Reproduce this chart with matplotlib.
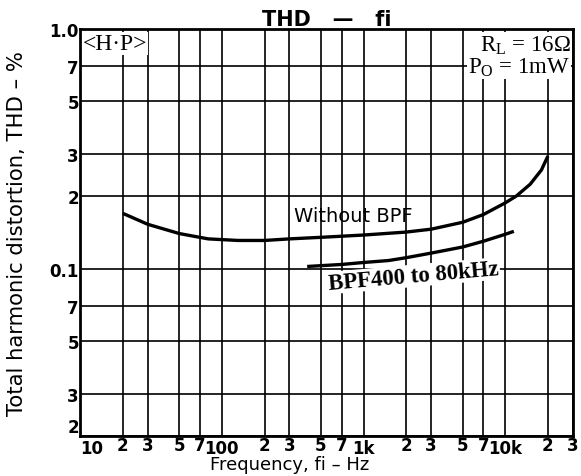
import numpy as np
import matplotlib.pyplot as plt
from matplotlib.ticker import FixedLocator, FixedFormatter

# Valores (THD em %, frequência em Hz)
freq_sem_bpf = [20, 30, 50, 80, 130, 200, 300, 500, 1000, 2000, 3000,
                5000, 7000, 10000, 12000, 15000, 18000, 20000]
thd_sem_bpf = [0.170, 0.153, 0.140, 0.133, 0.131, 0.131, 0.133, 0.135,
               0.138, 0.142, 0.146, 0.156, 0.168, 0.188, 0.201, 0.225,
               0.258, 0.295]

freq_bpf = [400, 700, 1000, 1500, 2000, 3000, 5000, 7000, 10000, 11500]
thd_bpf = [0.102, 0.104, 0.106, 0.108, 0.111, 0.116, 0.123, 0.130,
           0.139, 0.143]

x_major = [10, 100, 1000, 10000]
x_major_labels = ["10", "100", "1k", "10k"]
x_minor = [20, 30, 50, 70, 200, 300, 500, 700, 2000, 3000, 5000, 7000,
           20000, 30000]
x_minor_labels = ["2", "3", "5", "7"] * 3 + ["2", "3"]

y_major = [0.1, 1.0]
y_major_labels = ["0.1", "1.0"]
y_minor = [0.02, 0.03, 0.05, 0.07, 0.2, 0.3, 0.5, 0.7]
y_minor_labels = ["2", "3", "5", "7"] * 2


fig = plt.figure(figsize=(5.81, 4.77), dpi=100)
ax = fig.add_axes([0.138, 0.084, 0.848, 0.853])
ax.set_xscale("log")
ax.set_yscale("log")
ax.set_xlim(10, 30000)
ax.set_ylim(0.02, 1.0)

ax.xaxis.set_major_locator(FixedLocator(x_major))
ax.xaxis.set_major_formatter(FixedFormatter(x_major_labels))
ax.xaxis.set_minor_locator(FixedLocator(x_minor))
ax.xaxis.set_minor_formatter(FixedFormatter(x_minor_labels))
ax.yaxis.set_major_locator(FixedLocator(y_major))
ax.yaxis.set_major_formatter(FixedFormatter(y_major_labels))
ax.yaxis.set_minor_locator(FixedLocator(y_minor))
ax.yaxis.set_minor_formatter(FixedFormatter(y_minor_labels))

ax.tick_params(axis="both", which="both", length=0, labelsize=12)
ax.tick_params(axis="x", which="major", pad=2)
ax.tick_params(axis="x", which="minor", pad=0)
ax.tick_params(axis="y", which="both", pad=1)
for lab in ax.get_xticklabels(which="both") + ax.get_yticklabels(which="both"):
    lab.set_fontweight("bold")

# "10" um pouco à direita e "2" de baixo acima da linha, como no original
ax.xaxis.get_major_ticks()[0].label1.set_horizontalalignment("left")
ax.yaxis.get_minor_ticks()[0].label1.set_verticalalignment("bottom")

ax.grid(True, which="both", color="black", linewidth=1.2)
for s in ax.spines.values():
    s.set_linewidth(2)

ax.plot(freq_sem_bpf, thd_sem_bpf, color="black", linewidth=2.4,
        solid_capstyle="butt", zorder=3)
ax.plot(freq_bpf, thd_bpf, color="black", linewidth=2.4,
        solid_capstyle="butt", zorder=3)

ax.text(0.434, 0.528, "Without BPF", transform=ax.transAxes, fontsize=14,
        zorder=4)
ax.text(0.503, 0.362, "BPF400 to 80kHz", transform=ax.transAxes,
        fontsize=16.5, family="Liberation Serif", fontweight="bold",
        rotation=5, zorder=4,
        bbox=dict(facecolor="white", edgecolor="none", pad=0.5))

ax.text(0.006, 0.99, "<H\u00b7P>", transform=ax.transAxes, va="top",
        ha="left", fontsize=17, family="Liberation Serif", zorder=4,
        bbox=dict(facecolor="white", edgecolor="none", pad=0.5))
ax.text(0.995, 0.99,
        "R$_\\mathregular{L}$ = 16\u03a9\nP$_\\mathregular{O}$ = 1mW",
        transform=ax.transAxes, va="top", ha="right", fontsize=16.5,
        family="Liberation Serif", linespacing=0.95, zorder=4,
        bbox=dict(facecolor="white", edgecolor="none", pad=0.5))

ax.set_title("THD   \u2014   fi", fontsize=15, fontweight="bold", pad=2)
ax.set_xlabel("Frequency, fi \u2013 Hz", fontsize=13)
ax.xaxis.set_label_coords(0.426, -0.047)
ax.set_ylabel("Total harmonic distortion, THD \u2013 %", fontsize=15.2)
ax.yaxis.set_label_coords(-0.108, 0.5)

fig.savefig("out.png", dpi=100)
